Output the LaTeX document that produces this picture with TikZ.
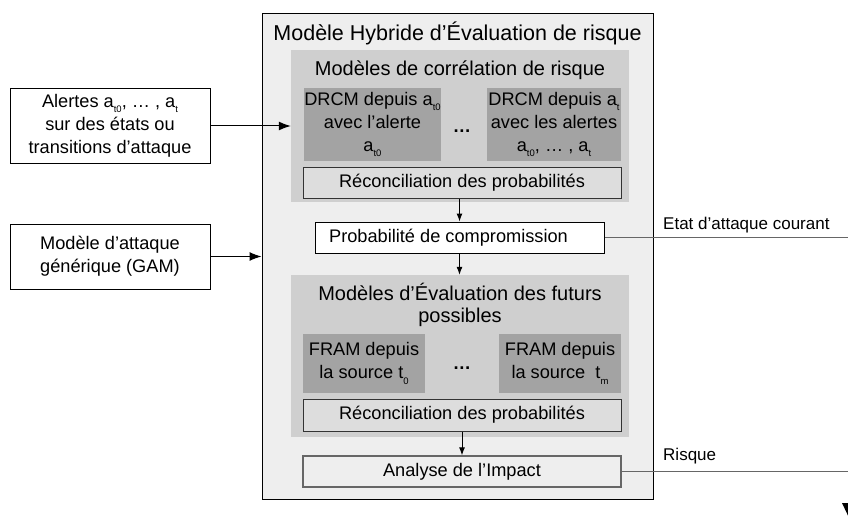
\documentclass[tikz,border=0pt]{standalone}
\usepackage{fontspec}
\setmainfont{Liberation Sans}
\usetikzlibrary{arrows.meta}
\newcommand{\lowidx}[1]{\raisebox{-0.55ex}{\fontsize{9.5}{9.5}\selectfont #1}}
\definecolor{outerfill}{HTML}{EEEEEE}
\definecolor{panelfill}{HTML}{CFCFCF}
\definecolor{darkfill}{HTML}{A3A3A3}
\definecolor{reconfill}{HTML}{DDDDDD}
\definecolor{linegray}{HTML}{666666}
\tikzset{
  body/.style={font=\fontsize{18.2}{23}\selectfont},
  ext/.style={draw=black, line width=1pt, fill=white, align=center, inner sep=0pt, body},
  panel/.style={fill=panelfill, draw=none, inner sep=0pt},
  darkbox/.style={fill=darkfill, draw=none, align=center, inner sep=0pt, body},
  recon/.style={fill=reconfill, draw=black!80, line width=1pt, inner sep=0pt, body},
  arr/.style={-{Latex[length=12pt,width=9pt]}, line width=1pt},
  sarr/.style={-{Latex[length=8pt,width=6pt]}, line width=1pt},
  outline/.style={draw=linegray, line width=1.6pt},
  lbl/.style={font=\fontsize{17}{20}\selectfont, anchor=west, inner sep=0pt}
}
\begin{document}
\begin{tikzpicture}[x=1pt,y=-1pt]
\path[use as bounding box, clip] (0,0) rectangle (848,516);
\fill[white] (0,0) rectangle (848,516);

% outer box
\node (outer) [draw=black, line width=1pt, fill=outerfill, minimum width=391pt, minimum height=485pt, inner sep=0pt] at (457.5,256.5) {};
\node (title) [font=\fontsize{21.5}{25}\selectfont] at (457.5,33) {Modèle Hybride d’Évaluation de risque};

% top panel
\node (panA) [panel, minimum width=338pt, minimum height=152pt] at (460,126) {};
\node (titA) [font=\fontsize{20}{24}\selectfont] at (460,70) {Modèles de corrélation de risque};
\node (drcmA) [darkbox, minimum width=131pt, minimum height=73pt] at (372.5,124.5)
  {DRCM depuis a\lowidx{t0}\\avec l’alerte\\a\lowidx{t0}};
\node (drcmB) [darkbox, minimum width=134pt, minimum height=73pt] at (554,124.5)
  {DRCM depuis a\lowidx{t}\\avec les alertes\\a\lowidx{t0}, … , a\lowidx{t}};
\node (dotsA) [body] at (462,131) {\textbf{…}};
\node (reconA) [recon, minimum width=318pt, minimum height=31pt] at (462,182.5) {Réconciliation des probabilités};

% probability
\node (prob) [draw=black, line width=1pt, fill=white, inner sep=0pt, body, minimum width=289pt, minimum height=31pt] at (459.5,237.5) {\hspace*{-22pt}Probabilité de compromission};

% bottom panel
\node (panB) [panel, minimum width=338pt, minimum height=162pt] at (460,356) {};
\node (titB) [font=\fontsize{20}{22}\selectfont, align=center] at (460,305) {Modèles d’Évaluation des futurs\\possibles};
\node (framA) [darkbox, minimum width=122pt, minimum height=59pt] at (364,363.5)
  {FRAM depuis\\la source t\lowidx{0}};
\node (framB) [darkbox, minimum width=122pt, minimum height=59pt] at (560,363.5)
  {FRAM depuis\\la source \ t\lowidx{m}};
\node (dotsB) [body] at (462,368) {\textbf{…}};
\node (reconB) [recon, minimum width=318pt, minimum height=32pt] at (462,415) {Réconciliation des probabilités};

% impact
\node (impact) [draw=linegray, line width=1.3pt, fill=outerfill, inner sep=0pt, body, minimum width=318pt, minimum height=31pt] at (462,471.5) {Analyse de l’Impact};

% external inputs
\node (alert) [ext, minimum width=200pt, minimum height=74pt] at (110,126)
  {Alertes a\lowidx{t0}, … , a\lowidx{t}\\sur des états ou\\transitions d’attaque};
\node (gam) [ext, minimum width=200pt, minimum height=65pt] at (110,256.5)
  {Modèle d’attaque\\générique (GAM)};

% connectors
\draw[arr] (alert.east) -- (alert.east -| panA.west);
\draw[arr] (gam.east) -- (gam.east -| outer.west);
\draw[sarr] (prob.north |- reconA.south) -- (prob.north);
\draw[sarr] (prob.south) -- (prob.south |- panB.north);
\draw[sarr] (reconB.south) -- (impact.north);

\coordinate (outA) at (848,237.5);
\coordinate (outB) at (848,471.5);
\draw[outline] (prob.east) -- (outA);
\draw[outline] (impact.east) -- (outB);
\node (lblA) [lbl] at (663,225) {Etat d’attaque courant};
\node (lblB) [lbl] at (663,456) {Risque};

% partial arrowhead at the bottom right corner
\fill[black] (842,503) -- (862,503) -- (852,524) -- cycle;
\end{tikzpicture}
\end{document}
